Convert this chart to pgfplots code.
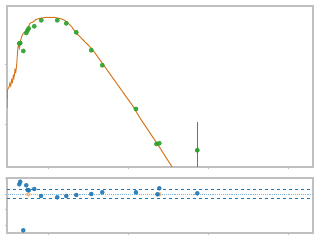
\documentclass[border=0pt]{standalone}
\usepackage{pgfplots}
\pgfplotsset{compat=1.18}
\definecolor{cgreen}{HTML}{2CA02C}
\definecolor{cblue}{HTML}{1F77B4}
\definecolor{corange}{HTML}{D6761E}
\definecolor{clorange}{HTML}{F5B27A}
\definecolor{cframe}{HTML}{C0C0C0}
\definecolor{clblue}{HTML}{7FB3E0}
\pgfplotsset{
  resstyle/.style={
    scale only axis, width=306pt,
    axis line style={cframe, line width=1.6pt},
    tick style={cframe, line width=0.8pt},
    tick align=outside,
    major tick length=2.5pt, minor tick length=1.5pt,
    xticklabels={}, yticklabels={},
    xtick pos=bottom, ytick pos=left,
    xmin=-0.521, xmax=3.304,
    xtick={0,1,2,3},
    minor xtick={-0.398,-0.301,-0.222,-0.155,-0.097,-0.046,
      0.301,0.477,0.602,0.699,0.778,0.845,0.903,0.954,
      1.301,1.477,1.602,1.699,1.778,1.845,1.903,1.954,
      2.301,2.477,2.602,2.699,2.778,2.845,2.903,2.954,3.301},
  }
}
\begin{document}
\begin{tikzpicture}[x=1pt,y=1pt]
\path[use as bounding box] (0,0) rectangle (320,240);
\begin{axis}[resstyle, at={(7pt,73pt)}, anchor=south west, height=161pt,
  ymin=-0.723, ymax=1.983,
  ytick={0,1},
  minor ytick={-0.699,-0.523,-0.398,-0.301,-0.222,-0.155,-0.097,-0.046,
      0.301,0.477,0.602,0.699,0.778,0.845,0.903,0.954,
      1.301,1.477,1.602,1.699,1.778,1.845,1.903,1.954},
]
\addplot[corange, line width=1pt, no marks] coordinates {
(-0.521,0.269) (-0.515,0.571) (-0.505,0.600) (-0.49,0.639) (-0.484,0.684)
(-0.474,0.639) (-0.4625,0.739) (-0.4525,0.706) (-0.4425,0.807) (-0.434,0.773)
(-0.421,0.908) (-0.411,0.874) (-0.4,0.992) (-0.3925,1.143) (-0.384,1.294)
(-0.375,1.328) (-0.365,1.277) (-0.3525,1.395) (-0.3375,1.467) (-0.3175,1.524)
(-0.296,1.546) (-0.275,1.555) (-0.259,1.613) (-0.234,1.692) (-0.1925,1.719)
(-0.159,1.756) (-0.109,1.776) (-0.046,1.790) (0.016,1.793) (0.079,1.790)
(0.1625,1.765) (0.191,1.748) (0.225,1.719) (0.2875,1.635) (0.341,1.529)
(0.391,1.467) (0.454,1.378) (0.516,1.299) (0.579,1.193) (0.641,1.076)
(0.704,0.958) (0.766,0.840) (0.891,0.605) (1.0575,0.291) (1.141,0.101)
(1.266,-0.151) (1.391,-0.403) (1.545,-0.728)
};
\addplot[only marks, mark=*, mark size=2.1pt, color=cgreen, fill opacity=0.9] coordinates {
(-0.3675,1.353) (-0.355,1.361) (-0.3175,1.227) (-0.28,1.529) (-0.265,1.571)
(-0.25,1.605) (-0.18,1.642) (-0.0925,1.743) (0.1075,1.743) (0.22,1.692)
(0.345,1.541) (0.5325,1.239) (0.67,0.987) (1.091,0.252) (1.3475,-0.336)
(1.3825,-0.324)
};
\addplot[only marks, mark=*, mark size=2.1pt, draw=cgreen, fill=cgreen,
  error bars/.cd, y dir=both, y explicit, error mark=none,
  error bar style={draw=cgreen, line width=0.9pt}] coordinates {
(1.8575,-0.442) += (0,0.471) -= (0,1.5)
};
\end{axis}
\begin{axis}[resstyle, at={(7pt,7pt)}, anchor=south west, height=55pt,
  ymin=-2.5, ymax=1.026,
  ytick={-2,-1,0,1}, minor ytick={},
]
\addplot[cblue, dashed, line width=0.9pt, no marks] coordinates {(-0.6,0.32) (3.4,0.32)};
\addplot[cblue, dashed, line width=0.9pt, no marks] coordinates {(-0.6,-0.26) (3.4,-0.26)};
\addplot[clblue, densely dotted, line width=0.9pt, no marks] coordinates {(-0.6,0) (3.4,0)};
\addplot[only marks, mark=*, mark size=2pt, color=clorange, fill opacity=0.8, draw opacity=0.8] coordinates {
(-0.255,-0.019) (1.3825,-0.019)
};
\addplot[only marks, mark=*, mark size=2pt, color=cblue, fill opacity=0.9] coordinates {
(-0.3675,0.622) (-0.355,0.788) (-0.28,0.558) (-0.2625,0.256) (-0.25,0.237)
(-0.18,0.321) (-0.096,-0.128) (0.1075,-0.212) (0.22,-0.128) (0.345,-0.064)
(0.5325,0) (0.67,0.109) (1.091,0.109) (1.36,-0.019) (1.3825,0.365)
(1.8575,0.045) (-0.3175,-2.327)
};
\end{axis}
\end{tikzpicture}
\end{document}
